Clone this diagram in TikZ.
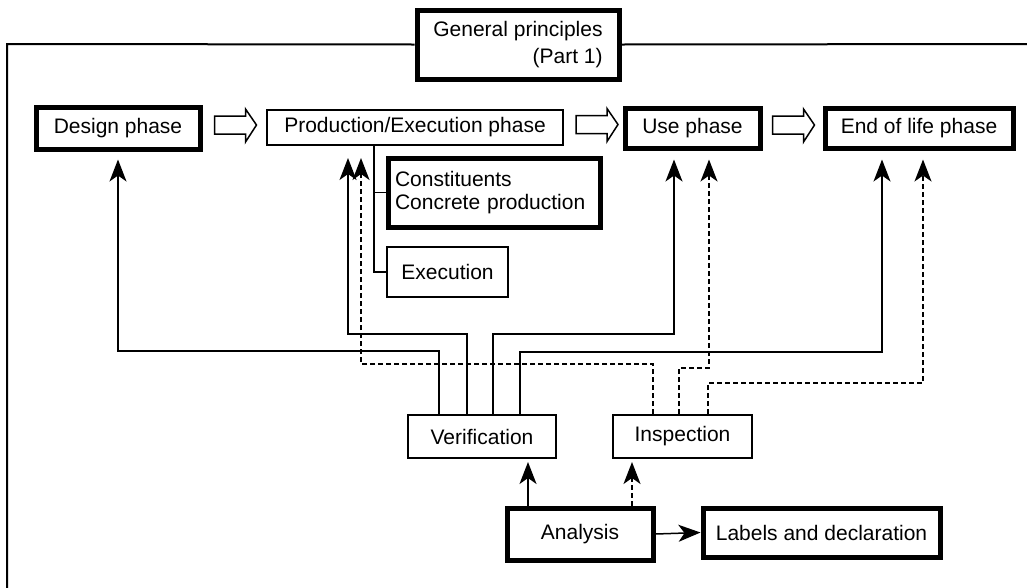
\documentclass[tikz,border=0pt]{standalone}
\usepackage{fontspec}
\setmainfont{Liberation Sans}
\usetikzlibrary{arrows.meta,calc}
\begin{document}
\begin{tikzpicture}[x=1pt,y=-1pt,
  box/.style={draw,line width=2pt,inner sep=0pt,font=\fontsize{21}{23}\selectfont},
  thickbox/.style={box,line width=5pt},
  conn/.style={line width=1.5pt,-{Stealth[length=22pt,width=17pt,inset=6pt]}},
  dashconn/.style={conn,dash pattern=on 5pt off 3pt},
  wire/.style={line width=1.5pt},
  frame/.style={line width=2pt},
  hollow arrow/.pic={\draw[line width=1.5pt,line join=miter]
     (0,-9)--(31,-9)--(31,-16)--(42,0)--(31,17)--(31,9)--(0,9)--cycle;}
]
\useasboundingbox (0,0) rectangle (1027,587);

% title box sitting on the frame
\node[thickbox,minimum width=202pt,minimum height=69pt,align=right,
      font=\fontsize{21}{27}\selectfont] (title) at (518,44.5)
      {General principles\\(Part 1)};
\draw[frame] (7,590) -- (7,44) -- (title.west);
\draw[frame] (title.east) -- (1027,44);

% life-cycle phases
\node[thickbox,minimum width=164pt,minimum height=42pt] (design) at (118,128) {Design phase};
\node[box,minimum width=296pt,minimum height=35pt] (prod) at (415,127.5) {Production/Execution phase};
\node[thickbox,minimum width=135pt,minimum height=40pt] (use) at (692.5,128) {Use phase};
\node[thickbox,minimum width=188pt,minimum height=40pt] (eol) at (919,128) {End of life phase};

\pic at ($(design.east)+(12,-3)$) {hollow arrow};
\pic at ($(prod.east)+(12,-3)$) {hollow arrow};
\pic at ($(use.east)+(10,-3)$) {hollow arrow};

% production sub-items
\node[thickbox,minimum width=212pt,minimum height=69pt,text width=198pt,
      inner xsep=7pt,align=left] (const) at (494,192.5)
      {Constituents\\Concrete production};
\node[box,minimum width=121pt,minimum height=50pt] (exec) at (447.5,272) {Execution};
\coordinate (branch) at ($(prod.south)+(-41,0)$);
\draw[wire] (branch) |- (exec.west);
\draw[wire] (branch) |- (const.west);

% checking
\node[box,minimum width=148pt,minimum height=43pt] (verif) at (482,436.5) {Verification};
\node[box,minimum width=139pt,minimum height=43pt] (insp) at (682.5,436.5) {Inspection};
\node[thickbox,minimum width=146pt,minimum height=52pt] (analysis) at (580,534) {Analysis};
\node[thickbox,minimum width=237pt,minimum height=49pt] (labels) at (821.5,532.5) {Labels and declaration};

% verification feeds every phase
\draw[conn] ($(verif.north)+(-43,0)$) -- ++(0,-63) -| ($(design.south)+(0,8)$);
\draw[conn] ($(verif.north)+(-15,0)$) -- ++(0,-80) -| ($(prod.south)+(-67,12)$);
\draw[conn] ($(verif.north)+(11,0)$) -- ++(0,-80) -| ($(use.south)+(-18.5,9)$);
\draw[conn] ($(verif.north)+(38,0)$) -- ++(0,-62) -| ($(eol.south)+(-37,9)$);

% inspection feeds the later phases
\draw[dashconn] ($(insp.north)+(-29.5,0)$) -- ++(0,-50) -| ($(prod.south)+(-54,12)$);
\draw[dashconn] ($(insp.north)+(-3.5,0)$) -- ++(0,-46) -| ($(use.south)+(16.5,9)$);
\draw[dashconn] ($(insp.north)+(25.5,0)$) -- ++(0,-31) -| ($(eol.south)+(4,9)$);

% analysis
\draw[conn] ($(analysis.north)+(-52,0)$) -- ($(verif.south)+(46,3)$);
\draw[dashconn] ($(analysis.north)+(52,0)$) -- ($(insp.south)+(-50.5,3)$);
\draw[conn] (analysis.east) -- (labels.west);
\end{tikzpicture}
\end{document}
